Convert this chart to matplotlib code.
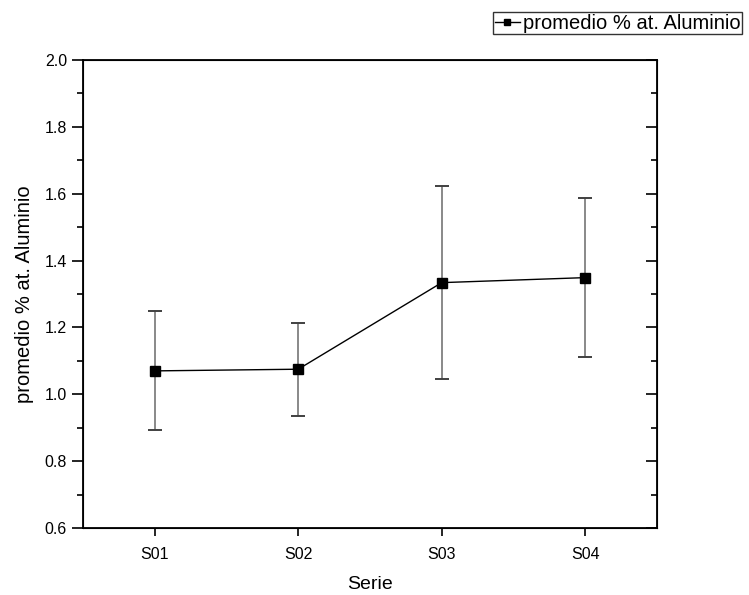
import numpy as np
import matplotlib.pyplot as plt

plt.rcParams['font.family'] = ['Liberation Sans', 'DejaVu Sans']

# data
series = ['S01', 'S02', 'S03', 'S04']
promedio = [1.070, 1.075, 1.334, 1.349]
error = [0.178, 0.139, 0.289, 0.238]
label = 'promedio % at. Aluminio'


def main():
    fig = plt.figure(figsize=(7.49, 5.95), dpi=100)
    ax = fig.add_axes([83/749, 1-528/595, (657-83)/749, (528-60)/595])

    x = np.arange(1, len(series)+1)
    # error bars grey, caps dark
    ax.errorbar(x, promedio, yerr=error, fmt='none', ecolor='#808080',
                elinewidth=1.3, capsize=5, capthick=1.3, zorder=2)
    ax.errorbar(x, promedio, yerr=error, fmt='none', ecolor='#303030',
                elinewidth=0, capsize=5, capthick=1.1, zorder=3)
    ax.plot(x, promedio, color='black', lw=1, marker='s', ms=6.5,
            mfc='black', mec='black', label=label, zorder=4)

    yt = np.arange(0.6, 2.01, 0.2)
    ym = np.arange(0.7, 2.0, 0.2)
    ax.set_xlim(0.5, 4.5)
    ax.set_ylim(0.6, 2.0)
    ax.set_xticks(x)
    ax.set_xticklabels(series)
    ax.set_yticks(yt)
    ax.set_yticks(ym, minor=True)
    ax.set_yticklabels(['%.1f' % v for v in yt])

    ax.tick_params(axis='y', which='both', direction='out', labelsize=11.5, width=1.2)
    ax.tick_params(axis='y', which='major', length=8)
    ax.tick_params(axis='y', which='minor', length=4)
    ax.tick_params(axis='x', direction='out', length=6, width=1.2,
                   labelsize=11.5, pad=8)
    for s in ax.spines.values():
        s.set_linewidth(1.3)

    ax.set_xlabel('Serie', fontsize=14, labelpad=10)
    ax.set_ylabel(label, fontsize=14.5, labelpad=8)

    # right ticks point inward, no labels
    axr = ax.twinx()
    axr.set_ylim(0.6, 2.0)
    axr.set_yticks(yt)
    axr.set_yticks(ym, minor=True)
    axr.tick_params(which='both', direction='in', labelright=False, width=1.2)
    axr.tick_params(which='major', length=8)
    axr.tick_params(which='minor', length=4)

    leg = fig.legend(*ax.get_legend_handles_labels(), loc='upper left',
                     bbox_to_anchor=(493/749, 1-12/595),
                     fontsize=14.5, frameon=True, fancybox=False,
                     handlelength=1.25, handletextpad=0.15, borderpad=0.08,
                     borderaxespad=0, markerscale=0.7)
    leg.get_frame().set_edgecolor('black')
    leg.get_frame().set_linewidth(1)

    fig.savefig('out.png', dpi=100)


if __name__ == "__main__":
    main()
